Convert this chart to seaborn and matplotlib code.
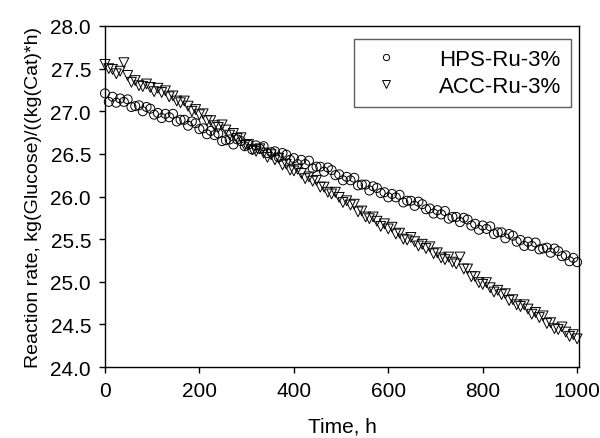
import matplotlib
matplotlib.use("Agg")
import matplotlib.pyplot as plt
from matplotlib.lines import Line2D
import pandas as pd
import seaborn as sns


TIME_H = [
    0, 8, 16, 24, 32, 40, 48, 56, 64, 72, 80, 88, 96, 104, 112, 120,
    128, 136, 144, 152, 160, 168, 176, 184, 192, 200, 208, 216, 224, 232, 240, 248,
    256, 264, 272, 280, 288, 296, 304, 312, 320, 328, 336, 344, 352, 360, 368, 376,
    384, 392, 400, 408, 416, 424, 432, 440, 448, 456, 464, 472, 480, 488, 496, 504,
    512, 520, 528, 536, 544, 552, 560, 568, 576, 584, 592, 600, 608, 616, 624, 632,
    640, 648, 656, 664, 672, 680, 688, 696, 704, 712, 720, 728, 736, 744, 752, 760,
    768, 776, 784, 792, 800, 808, 816, 824, 832, 840, 848, 856, 864, 872, 880, 888,
    896, 904, 912, 920, 928, 936, 944, 952, 960, 968, 976, 984, 992, 1000,
]

HPS_RATE = [
    27.21, 27.11, 27.17, 27.10, 27.15, 27.11, 27.14, 27.05, 27.06, 27.07, 27.00, 27.05, 27.03, 26.96, 26.98, 26.92,
    26.97, 26.93, 26.97, 26.88, 26.90, 26.90, 26.83, 26.88, 26.86, 26.79, 26.80, 26.73, 26.77, 26.72, 26.74, 26.65,
    26.66, 26.67, 26.61, 26.67, 26.65, 26.59, 26.61, 26.55, 26.60, 26.56, 26.59, 26.51, 26.52, 26.53, 26.46, 26.51,
    26.49, 26.43, 26.45, 26.38, 26.43, 26.38, 26.42, 26.33, 26.35, 26.35, 26.29, 26.34, 26.31, 26.25, 26.26, 26.19,
    26.23, 26.19, 26.22, 26.13, 26.14, 26.14, 26.07, 26.12, 26.10, 26.04, 26.05, 25.99, 26.03, 25.99, 26.02, 25.93,
    25.95, 25.95, 25.89, 25.94, 25.91, 25.85, 25.86, 25.80, 25.84, 25.79, 25.83, 25.74, 25.76, 25.76, 25.70, 25.75,
    25.73, 25.66, 25.68, 25.61, 25.66, 25.62, 25.65, 25.56, 25.58, 25.58, 25.51, 25.56, 25.54, 25.47, 25.49, 25.42,
    25.47, 25.42, 25.46, 25.38, 25.39, 25.40, 25.34, 25.39, 25.36, 25.30, 25.31, 25.24, 25.28, 25.23,
]

ACC_RATE = [
    27.55, 27.50, 27.49, 27.44, 27.47, 27.57, 27.42, 27.34, 27.36, 27.30, 27.29, 27.32, 27.28, 27.23, 27.27, 27.22,
    27.24, 27.17, 27.18, 27.12, 27.10, 27.12, 27.06, 27.00, 27.02, 26.96, 26.97, 26.89, 26.89, 26.83, 26.81, 26.84,
    26.78, 26.72, 26.74, 26.68, 26.69, 26.60, 26.61, 26.55, 26.53, 26.56, 26.51, 26.46, 26.49, 26.43, 26.45, 26.37,
    26.38, 26.31, 26.30, 26.32, 26.27, 26.21, 26.23, 26.18, 26.19, 26.11, 26.11, 26.05, 26.03, 26.05, 25.99, 25.93,
    25.95, 25.90, 25.91, 25.82, 25.83, 25.76, 25.74, 25.76, 25.71, 25.65, 25.68, 25.62, 25.64, 25.56, 25.57, 25.50,
    25.49, 25.52, 25.47, 25.42, 25.44, 25.39, 25.41, 25.33, 25.34, 25.28, 25.26, 25.29, 25.23, 25.21, 25.29, 25.15,
    25.15, 25.06, 25.06, 24.99, 24.97, 24.99, 24.93, 24.88, 24.90, 24.85, 24.86, 24.78, 24.79, 24.73, 24.71, 24.73,
    24.68, 24.62, 24.64, 24.58, 24.60, 24.51, 24.52, 24.45, 24.44, 24.47, 24.41, 24.36, 24.38, 24.33,
]

SERIES_LABELS = ["HPS-Ru-3%", "ACC-Ru-3%"]
Y_TICKS = [24.0, 24.5, 25.0, 25.5, 26.0, 26.5, 27.0, 27.5, 28.0]
X_TICKS = [0, 200, 400, 600, 800, 1000]


def setup_style() -> None:
    sns.set_theme(style="white", context="notebook")
    plt.rcParams.update(
        {
            "font.family": ["Liberation Sans", "DejaVu Sans"],
            "axes.edgecolor": "black",
            "axes.linewidth": 1.0,
            "xtick.color": "black",
            "ytick.color": "black",
            "text.color": "black",
            "axes.labelcolor": "black",
        }
    )


def main() -> None:
    setup_style()
    frame = pd.DataFrame({"time": TIME_H, "hps": HPS_RATE, "acc": ACC_RATE})

    figure = plt.figure(figsize=(6.0, 4.39), dpi=100)
    axis = figure.add_axes([0.175, 0.1617, 0.79, 0.7768])

    sns.scatterplot(
        data=frame, x="time", y="hps", ax=axis, marker="o", s=42,
        facecolor="none", edgecolor="black", linewidth=0.7, clip_on=False,
    )
    sns.scatterplot(
        data=frame, x="time", y="acc", ax=axis, marker="v", s=50,
        facecolor="none", edgecolor="black", linewidth=0.7, clip_on=False,
    )

    axis.set_xlim(0, 1004)
    axis.set_ylim(24.0, 28.0)
    axis.set_xticks(X_TICKS)
    axis.set_yticks(Y_TICKS)
    axis.set_yticklabels([f"{v:.1f}" for v in Y_TICKS])
    axis.tick_params(
        axis="both", which="both", direction="out", length=4, width=1.0,
        labelsize=15, bottom=True, left=True, top=False, right=False, pad=6,
    )
    axis.set_xlabel("Time, h", fontsize=15, labelpad=12)
    axis.set_ylabel("Reaction rate, kg(Glucose)/((kg(Cat)*h)", fontsize=14, labelpad=6)
    for spine in axis.spines.values():
        spine.set_visible(True)
        spine.set_color("black")
        spine.set_linewidth(1.0)

    handles = [
        Line2D([], [], linestyle="none", marker="o", markersize=4.5,
               markerfacecolor="none", markeredgecolor="black", markeredgewidth=0.7),
        Line2D([], [], linestyle="none", marker="v", markersize=5.5,
               markerfacecolor="none", markeredgecolor="black", markeredgewidth=0.7),
    ]
    legend = axis.legend(
        handles, SERIES_LABELS, loc="upper right", bbox_to_anchor=(0.983, 0.962),
        borderaxespad=0, fontsize=16, frameon=True, fancybox=False,
        borderpad=0.45, handlelength=2.0, handletextpad=1.35, labelspacing=0.28,
    )
    legend.get_frame().set_edgecolor("#333333")
    legend.get_frame().set_linewidth(1.0)

    figure.savefig("out.png", dpi=100, facecolor="white")
    plt.close(figure)


if __name__ == "__main__":
    main()
